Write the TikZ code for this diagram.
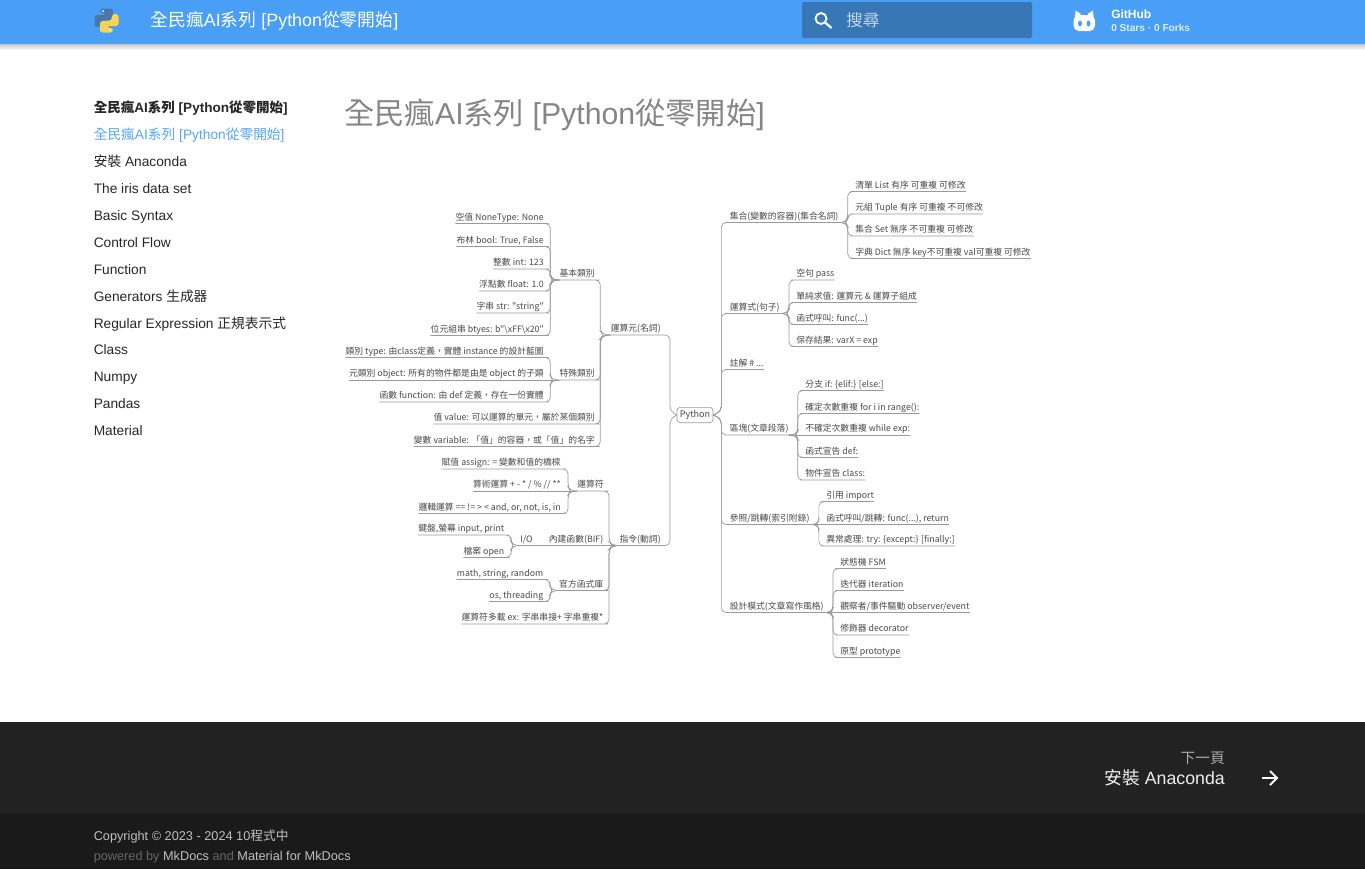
\documentclass[tikz,border=0pt]{standalone}
\usepackage{fontspec}
\setmainfont{Liberation Sans}
\newfontfamily\cjk{Noto Sans CJK TC}
\newcommand{\zh}[1]{{\cjk #1}}
\usetikzlibrary{calc}
\definecolor{barblue}{HTML}{489FF5}
\definecolor{boxblue}{HTML}{3777B6}
\definecolor{footgray}{HTML}{222222}
\definecolor{footdark}{HTML}{1A1A1A}
\definecolor{linkblue}{HTML}{52A5F5}
\definecolor{mapline}{HTML}{9A9A9A}
\definecolor{maptext}{HTML}{484848}
\definecolor{pyblue}{HTML}{4B78A8}
\definecolor{pyyellow}{HTML}{FBD44F}
\begin{document}
\begin{tikzpicture}[x=0.75pt,y=-0.75pt]
  \useasboundingbox (0,0) rectangle (1365,869);
  \tikzstyle{nav}=[anchor=west, inner sep=0pt, text height=11pt, text depth=2.5pt, font=\fontsize{10.3pt}{12pt}\selectfont, text=black!85]
  \tikzstyle{bartext}=[anchor=west, inner sep=0pt, text=white]
  \tikzstyle{foot}=[anchor=west, inner sep=0pt, font=\fontsize{9.55pt}{11pt}\selectfont]
  \tikzstyle{mapnode}=[inner xsep=0pt, inner ysep=1.3pt, text height=5.2pt, text depth=1pt, text=maptext, font=\cjk\fontsize{6.6pt}{8pt}\selectfont]
  \tikzstyle{kidl}=[mapnode, anchor=south east]
  \tikzstyle{kidr}=[mapnode, anchor=south west]
  \tikzstyle{leftbr}[1.5pt]=[draw=mapline, line width=0.5pt, rounded corners=3.5pt,
    to path={let \p1=(\tikztostart.south east), \p2=(\tikztotarget.south west),
      \p3=($(\x2-5.25pt-#1,\y2)!3pt!(\x2-5.25pt-#1,\y1)$) in
      (\tikztostart.south west) -- (\p1) -- (\x3,\y1) -- (\p3) -- (\x2-5.25pt,\y2) -- (\p2)}]
  \tikzstyle{rightbr}[1.5pt]=[draw=mapline, line width=0.5pt, rounded corners=3.5pt,
    to path={let \p1=(\tikztostart.south west), \p2=(\tikztotarget.south east),
      \p3=($(\x2+5.25pt+#1,\y2)!3pt!(\x2+5.25pt+#1,\y1)$) in
      (\tikztostart.south east) -- (\p1) -- (\x3,\y1) -- (\p3) -- (\x2+5.25pt,\y2) -- (\p2)}]
  \tikzstyle{midl}=[draw=mapline, line width=0.5pt, to path={(\tikztostart.south west) -- (\tikztotarget.south west)}]
  \tikzstyle{midr}=[draw=mapline, line width=0.5pt, to path={(\tikztostart.south east) -- (\tikztotarget.south east)}]
  \tikzstyle{pyleft}=[draw=mapline, line width=0.5pt, rounded corners=3.5pt,
    to path={let \p1=(\tikztostart.south east), \p2=(\tikztotarget.west),
      \p3=($(\x2-5pt,\y2)!3pt!(\x2-5pt,\y1)$) in
      (\tikztostart.south west) -- (\p1) -- (\x3,\y1) -- (\p3) -- (\p2)}]
  \tikzstyle{pyright}=[draw=mapline, line width=0.5pt, rounded corners=3.5pt,
    to path={let \p1=(\tikztostart.south west), \p2=(\tikztotarget.east),
      \p3=($(\x2+6pt,\y2)!3pt!(\x2+6pt,\y1)$) in
      (\tikztostart.south east) -- (\p1) -- (\x3,\y1) -- (\p3) -- (\p2)}]

  % page
  \shade [top color=black!22, bottom color=white] (0,44) rectangle (1365,50);
  \fill [barblue] (0,0) rectangle (1365,44);
  \fill [footgray] (0,722) rectangle (1365,813);
  \fill [footdark] (0,813) rectangle (1365,869);

  % top bar
  \fill [pyblue, rounded corners=2pt] (100,8.5) -- (113,8.5) -- (113,20) -- (103,20) -- (101,22) -- (101,27) -- (94.5,27) -- (94.5,15) -- (106,15) -- (106,13) -- (100,13) -- cycle;
  \fill [pyyellow, rounded corners=2pt] (113,32.5) -- (100,32.5) -- (100,21) -- (110,21) -- (112,19) -- (112,14) -- (118.5,14) -- (118.5,26) -- (107,26) -- (107,28) -- (113,28) -- cycle;
  \fill [white] (103,11) circle (1) (110,30) circle (1);
  \node[bartext, font=\fontsize{13.4pt}{16pt}\selectfont] (bartitle) at (150,20.5) {\zh{全民瘋}AI\zh{系列} [Python\zh{從零開始}]};
  \fill [boxblue, rounded corners=1.5pt] (802,2) rectangle (1032,38);
  \draw [white, line width=1.4pt] (821,18.5) circle (5.5);
  \draw [white, line width=1.6pt] (825,22.5) -- (831.5,28);
  \node[bartext, text=white!70!boxblue, font=\cjk\fontsize{12.5pt}{15pt}\selectfont] (search) at (846,20) {搜尋};
  \fill [white, rounded corners=4pt] (1073.5,15) rectangle (1095,31);
  \fill [white] (1075,18) -- (1075.5,10.5) -- (1081,14) -- cycle;
  \fill [white] (1093.5,18) -- (1093,10.5) -- (1087.5,14) -- cycle;
  \fill [barblue] (1080,23.5) ellipse (2 and 3) (1088.5,23.5) ellipse (2 and 3);
  \node[bartext, font=\bfseries\fontsize{9pt}{11pt}\selectfont] (github) at (1111,14) {GitHub};
  \node[bartext, text=white!80!barblue, font=\bfseries\fontsize{7.6pt}{9pt}\selectfont] (stars) at (1111,27.5) {0 Stars · 0 Forks};

  % side menu
  \node[nav, font=\bfseries\fontsize{10.15pt}{12pt}\selectfont] (navhead) at (93.5,107) {\zh{全民瘋}AI\zh{系列} [Python\zh{從零開始}]};
  \node[nav, text=linkblue] (nav1) at (93.5,134) {\zh{全民瘋}AI\zh{系列} [Python\zh{從零開始}]};
  \node[nav] (nav2)  at (93.5,161) {\zh{安裝} Anaconda};
  \node[nav] (nav3)  at (93.5,188) {The iris data set};
  \node[nav] (nav4)  at (93.5,215) {Basic Syntax};
  \node[nav] (nav5)  at (93.5,242) {Control Flow};
  \node[nav] (nav6)  at (93.5,269) {Function};
  \node[nav] (nav7)  at (93.5,296) {Generators \zh{生成器}};
  \node[nav] (nav8)  at (93.5,323) {Regular Expression \zh{正規表示式}};
  \node[nav] (nav9)  at (93.5,349) {Class};
  \node[nav] (nav10) at (93.5,376) {Numpy};
  \node[nav] (nav11) at (93.5,403) {Pandas};
  \node[nav] (nav12) at (93.5,430) {Material};

  \node[anchor=west, inner sep=0pt, text=black!48, font=\fontsize{22.7pt}{28pt}\selectfont] (title) at (344,114.5) {\zh{全民瘋}AI\zh{系列} [Python\zh{從零開始}]};

  % mind map
  \node[draw=mapline, line width=0.5pt, rounded corners=2.5pt, inner sep=0pt, minimum width=27pt, minimum height=11.5pt, text=maptext, font=\cjk\fontsize{6.8pt}{8pt}\selectfont] (python) at (695,415) {Python};

  \node[kidl] (operand) at (661,335) {運算元(名詞)};
  \node[kidl] (basic)   at (595,280) {基本類別};
  \node[kidl] (special) at (595,380) {特殊類別};
  \node[kidl] (value)   at (595,424) {值 value: 可以運算的單元，屬於某個類別};
  \node[kidl] (var)     at (595,446.5) {變數 variable: 「值」的容器，或「值」的名字};
  \node[kidl] (none)    at (544,223.5) {空值 NoneType: None};
  \node[kidl] (bool)    at (544,246.5) {布林 bool: True, False};
  \node[kidl] (int)     at (544,269) {整數 int: 123};
  \node[kidl] (float)   at (544,291) {浮點數 float: 1.0};
  \node[kidl] (str)     at (544,313) {字串 str: "string"};
  \node[kidl] (bytes)   at (544,335.5) {位元組串 btyes: b"\textbackslash xFF\textbackslash x20"};
  \node[kidl] (type)    at (544,357.5) {類別 type: 由class定義，實體 instance 的設計藍圖};
  \node[kidl] (object)  at (544,380) {元類別 object: 所有的物件都是由是 object 的子類};
  \node[kidl] (func)    at (544,402) {函數 function: 由 def 定義，存在一份實體};

  \node[kidl] (command) at (661,545.5) {指令(動詞)};
  \node[kidl] (opers)   at (604,491) {運算符};
  \node[kidl] (bif)     at (603.5,545.5) {內建函數(BIF)};
  \node[kidl] (stdlib)  at (603.5,590.5) {官方函式庫};
  \node[kidl] (overl)   at (603.5,624) {運算符多載 ex: 字串串接+ 字串重複*};
  \node[kidl] (assign)  at (561,469) {賦值 assign: = 變數和值的橋樑};
  \node[kidl] (arith)   at (561,491) {算術運算 + - * / \% // **};
  \node[kidl] (logic)   at (561,513.5) {邏輯運算 == != > < and, or, not, is, in};
  \node[kidl] (io)      at (533,545.5) {I/O};
  \node[kidl] (screen)  at (504.5,535) {鍵盤,螢幕 input, print};
  \node[kidl] (file)    at (504.5,557.5) {檔案 open};
  \node[kidl] (math)    at (543.5,579.5) {math, string, random};
  \node[kidl] (os)      at (543.5,601.5) {os, threading};

  \node[kidr] (coll)    at (729.5,222.5) {集合(變數的容器)(集合名詞)};
  \node[kidr] (list)    at (855,191.5) {清單 List 有序 可重複 可修改};
  \node[kidr] (tuple)   at (855,214) {元組 Tuple 有序 可重複 不可修改};
  \node[kidr] (set)     at (855,236) {集合 Set 無序 不可重複 可修改};
  \node[kidr] (dict)    at (855,258.5) {字典 Dict 無序 key不可重複 val可重複 可修改};

  \node[kidr] (expr)    at (729.5,313.5) {運算式(句子)};
  \node[kidr] (pass)    at (796,280) {空句 pass};
  \node[kidr] (eval)    at (796,302.5) {單純求值: 運算元 \& 運算子組成};
  \node[kidr] (call)    at (796,324.5) {函式呼叫: func(...)};
  \node[kidr] (save)    at (796,346.5) {保存結果: varX = exp};

  \node[kidr] (note)    at (729.5,369.5) {註解 \# ...};

  \node[kidr] (block)   at (729.5,435) {區塊(文章段落)};
  \node[kidr] (if)      at (805,390.5) {分支 if: \{elif:\} [else:]};
  \node[kidr] (for)     at (805,413.5) {確定次數重複 for i in range():};
  \node[kidr] (while)   at (805,435) {不確定次數重複 while exp:};
  \node[kidr] (def)     at (805,457.5) {函式宣告 def:};
  \node[kidr] (class)   at (805,480) {物件宣告 class:};

  \node[kidr] (ref)     at (729.5,524.5) {參照/跳轉(索引附錄)};
  \node[kidr] (import)  at (826,501.5) {引用 import};
  \node[kidr] (jump)    at (826,524.5) {函式呼叫/跳轉: func(...), return};
  \node[kidr] (try)     at (826,546) {異常處理: try: \{except:\} [finally:]};

  \node[kidr] (design)  at (729.5,612.5) {設計模式(文章寫作風格)};
  \node[kidr] (fsm)     at (840,568.5) {狀態機 FSM};
  \node[kidr] (iter)    at (840,590.5) {迭代器 iteration};
  \node[kidr] (observ)  at (840,612.5) {觀察者/事件驅動 observer/event};
  \node[kidr] (decor)   at (840,635) {修飾器 decorator};
  \node[kidr] (proto)   at (840,657.5) {原型 prototype};

  \path (operand) edge[pyleft] (python);
  \path (command) edge[pyleft] (python);
  \path (basic) edge[leftbr=2.5pt] (operand);
  \path (special) edge[leftbr=2.5pt] (operand);
  \path (value) edge[leftbr=2.5pt] (operand);
  \path (var) edge[leftbr=2.5pt] (operand);
  \path (none) edge[leftbr] (basic);
  \path (bool) edge[leftbr] (basic);
  \path (int) edge[leftbr] (basic);
  \path (float) edge[leftbr] (basic);
  \path (str) edge[leftbr] (basic);
  \path (bytes) edge[leftbr] (basic);
  \path (type) edge[leftbr] (special);
  \path (object) edge[midl] (special);
  \path (func) edge[leftbr] (special);
  \path (opers) edge[leftbr=2.5pt] (command);
  \path (bif) edge[midl] (command);
  \path (stdlib) edge[leftbr=2.5pt] (command);
  \path (overl) edge[leftbr=2.5pt] (command);
  \path (assign) edge[leftbr] (opers);
  \path (arith) edge[midl] (opers);
  \path (logic) edge[leftbr] (opers);
  \path (io) edge[midl] (bif);
  \path (screen) edge[leftbr] (io);
  \path (file) edge[leftbr] (io);
  \path (math) edge[leftbr] (stdlib);
  \path (os) edge[leftbr] (stdlib);

  \path (coll) edge[pyright] (python);
  \path (expr) edge[pyright] (python);
  \path (note) edge[pyright] (python);
  \path (block) edge[pyright] (python);
  \path (ref) edge[pyright] (python);
  \path (design) edge[pyright] (python);
  \path (list) edge[rightbr] (coll);
  \path (tuple) edge[rightbr] (coll);
  \path (set) edge[rightbr] (coll);
  \path (dict) edge[rightbr] (coll);
  \path (pass) edge[rightbr] (expr);
  \path (eval) edge[rightbr] (expr);
  \path (call) edge[rightbr] (expr);
  \path (save) edge[rightbr] (expr);
  \path (if) edge[rightbr] (block);
  \path (for) edge[rightbr] (block);
  \path (while) edge[midr] (block);
  \path (def) edge[rightbr] (block);
  \path (class) edge[rightbr] (block);
  \path (import) edge[rightbr] (ref);
  \path (jump) edge[midr] (ref);
  \path (try) edge[rightbr] (ref);
  \path (fsm) edge[rightbr] (design);
  \path (iter) edge[rightbr] (design);
  \path (observ) edge[midr] (design);
  \path (decor) edge[rightbr] (design);
  \path (proto) edge[rightbr] (design);

  % footer
  \node[anchor=east, inner sep=0pt, text=white!62!footgray, font=\cjk\fontsize{11pt}{13pt}\selectfont] (nextlabel) at (1225,758) {下一頁};
  \node[anchor=east, inner sep=0pt, text=white!92!footgray, font=\fontsize{13.3pt}{16pt}\selectfont] (nextpage) at (1225,778) {\zh{安裝} Anaconda};
  \draw [white, line width=1.4pt] (1262,778) -- (1277,778);
  \draw [white, line width=1.4pt] (1270,771) -- (1277,778) -- (1270,785);
  \node[foot, text=white!72!footdark] (copyright) at (93.5,836) {Copyright © 2023 - 2024 10\zh{程式中}};
  \node[foot, text=white!72!footdark] (powered) at (93.5,857) {\textcolor{white!33!footdark}{powered by} MkDocs \textcolor{white!33!footdark}{and} Material for MkDocs};
\end{tikzpicture}
\end{document}
